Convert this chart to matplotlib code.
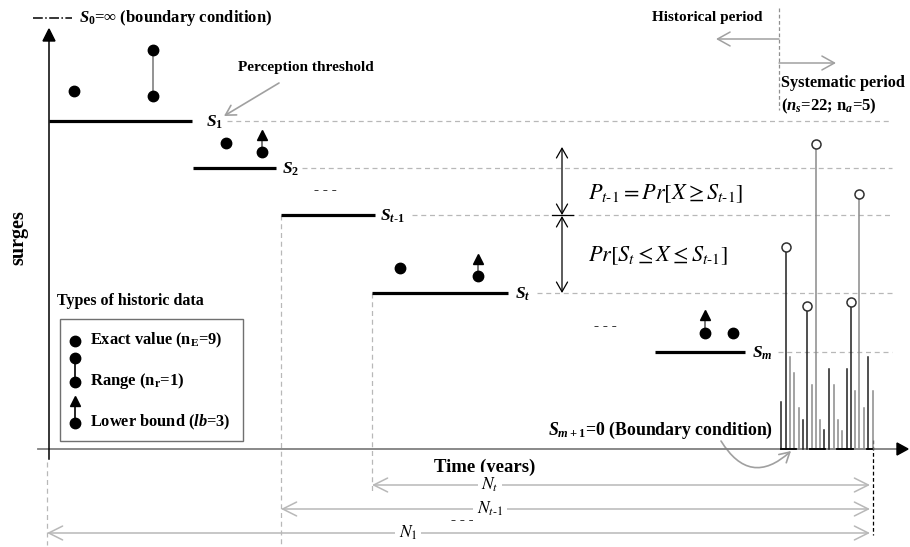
import matplotlib
matplotlib.use("Agg")
import matplotlib.pyplot as plt
from matplotlib.patches import FancyArrowPatch, Rectangle

plt.rcParams['font.family'] = ['Liberation Serif', 'DejaVu Serif']
plt.rcParams['mathtext.fontset'] = 'custom'
plt.rcParams['mathtext.rm'] = 'Liberation Serif:bold'
plt.rcParams['mathtext.it'] = 'Liberation Serif:italic:bold'
plt.rcParams['mathtext.bf'] = 'Liberation Serif:bold'
try:
    plt.rcParams['mathtext.bfit'] = 'Liberation Serif:italic:bold'
except KeyError:
    pass

# ---------------- data (pixel-space schematic) ----------------
thr_level = [121, 168, 215, 293, 352]
thr_x0 = [49, 193, 281, 372, 655]
thr_x1 = [192, 276, 375, 508, 745]
thr_labels = [r'$\mathit{S}_{\mathit{1}}$', r'$\mathit{S}_{\mathit{2}}$',
              r'$\mathit{S}_{\mathit{t\text{-}1}}$', r'$\mathit{S}_{\mathit{t}}$',
              r'$\mathit{S}_{\mathit{m}}$']
thr_label_x = [206, 282, 380, 515, 752]
thr_dash_x0 = [227, 302, 412, 537, 778]

exact_x = [74, 226, 400, 733]
exact_y = [91, 143, 268, 333]
range_x = [153]
range_lo = [96]
range_hi = [50]
lb_x = [262, 478, 705]
lb_y = [152, 276, 333]
lb_tip = [131, 255, 311]

stem_x = [781, 786, 790, 794, 799, 803, 807, 812, 816, 820, 824, 829, 834, 838,
          842, 847, 851, 855, 859, 864, 868, 873]
stem_top = [402, 247, 357, 373, 408, 420, 306, 385, 144, 420, 430, 369, 385, 420,
            431, 369, 302, 391, 194, 408, 357, 391]
stem_dark = [1, 1, 0, 0, 0, 1, 1, 0, 0, 0, 1, 1, 0, 0, 0, 1, 1, 0, 0, 0, 1, 0]
stem_above = [0, 1, 0, 0, 0, 0, 1, 0, 1, 0, 0, 0, 0, 0, 0, 0, 1, 0, 1, 0, 0, 0]
base_segments = [(781, 796), (810, 825), (837, 853), (867, 872)]

n_arrow_x0 = [372, 281, 47]
n_arrow_y = [485, 509, 533]
n_labels = [r'$N_t$', r'$N_{t\text{-}1}$', r'$N_1$']
n_label_x = [490, 490, 408]
n_arrow_x1 = 870

BASE = 449
GRAY = '#a0a0a0'
LGRAY = '#b8b8b8'

fig = plt.figure(figsize=(9.1, 5.47), dpi=100)
ax = fig.add_axes([0, 0, 1, 1])
ax.set_xlim(0, 910)
ax.set_ylim(547, 0)
ax.axis('off')

# axes of the schematic
ax.plot([38, 898], [BASE, BASE], color='#808080', lw=1.3, zorder=2)
ax.fill([897, 908, 897], [443, BASE, 455], color='black', zorder=3)
ax.plot([49, 49], [459, 40], color='black', lw=1.1)
ax.fill([43, 49, 55], [41, 29, 41], color='black')

# thresholds
for y, x0, x1, lab, lx, dx0 in zip(thr_level, thr_x0, thr_x1, thr_labels, thr_label_x, thr_dash_x0):
    ax.plot([x0, x1], [y, y], color='black', lw=2.3, solid_capstyle='butt', zorder=3)
    ax.text(lx, y + 1, lab, fontsize=12.5, ha='left', va='center')
    ax.plot([dx0, 892], [y, y], color=LGRAY, lw=0.9, ls=(0, (4, 3)), zorder=1)

# vertical dashed guides
ax.plot([281, 281], [215, 545], color=LGRAY, lw=0.9, ls=(0, (4, 3)))
ax.plot([372, 372], [293, 492], color=LGRAY, lw=0.9, ls=(0, (4, 3)))
ax.plot([47, 47], [462, 545], color=LGRAY, lw=0.9, ls=(0, (4, 3)))
ax.plot([873, 873], [440, 535], color='black', lw=0.9, ls=(0, (3, 2)))
ax.plot([779, 779], [8, 110], color='#909090', lw=0.9, ls=(0, (3, 2)))

# historic data points
ax.plot(exact_x, exact_y, 'o', color='black', ms=7.5, zorder=4)
for x, lo, hi in zip(range_x, range_lo, range_hi):
    ax.plot([x, x], [lo, hi], color='#808080', lw=1.2, zorder=3)
    ax.plot([x, x], [lo, hi], 'o', color='black', ms=7.5, zorder=4)
for x, y, t in zip(lb_x, lb_y, lb_tip):
    ax.plot([x, x], [y, t + 6], color='#606060', lw=1.2, zorder=3)
    ax.plot([x], [y], 'o', color='black', ms=7.5, zorder=4)
    ax.plot([x], [t + 4], '^', color='black', ms=7, zorder=4)

# systematic stems
for x, top, dk, ab in zip(stem_x, stem_top, stem_dark, stem_above):
    c = '#202020' if dk else '#8a8a8a'
    if ab:
        ax.plot([x, x], [BASE, top + 4], color=c, lw=1.1, zorder=3)
        ax.plot([x], [top], 'o', mfc='white', mec='#303030', mew=1.1, ms=6.5, zorder=4)
    else:
        ax.plot([x, x], [BASE, top], color=c, lw=1.1, zorder=3)
for a, b in base_segments:
    ax.plot([a, b], [BASE, BASE], color='black', lw=1.3, zorder=3)

# ellipsis marks
for x, y in [(325, 190), (605, 327), (462, 520)]:
    ax.text(x, y, '- - -', fontsize=11, fontweight='bold', ha='center', va='center')

# probability arrows
ax.add_patch(FancyArrowPatch((562, 147), (562, 215), arrowstyle='<->,head_length=7,head_width=4',
                             color='black', lw=0.9, shrinkA=0, shrinkB=0))
ax.add_patch(FancyArrowPatch((562, 216), (562, 293), arrowstyle='<->,head_length=7,head_width=4',
                             color='black', lw=0.9, shrinkA=0, shrinkB=0))
ax.plot([552, 573], [215, 215], color='black', lw=0.9)
ax.text(588, 194, r'$P_{t\text{-}1} = Pr\left[X \geq S_{t\text{-}1}\right]$', fontsize=16,
        math_fontfamily='stix', ha='left', va='center')
ax.text(588, 256, r'$Pr\left[S_t \leq X \leq S_{t\text{-}1}\right]$', fontsize=16,
        math_fontfamily='stix', ha='left', va='center')

# legend of boundary condition
ax.plot([33, 72], [18, 18], color='black', lw=1.1, ls='-.')
ax.text(79, 18, r'$\mathit{S}_{\mathit{0}}$=∞ (boundary condition)', fontsize=12,
        fontweight='bold', ha='left', va='center')

# perception threshold
ax.text(238, 67, 'Perception threshold', fontsize=11, fontweight='bold', ha='left', va='center')
ax.add_patch(FancyArrowPatch((279, 83), (224, 116), arrowstyle='->,head_length=7,head_width=4',
                             color=GRAY, lw=1.2, shrinkA=0, shrinkB=0))

# periods
ax.text(652, 17, 'Historical period', fontsize=11, fontweight='bold', ha='left', va='center')
ax.add_patch(FancyArrowPatch((779, 39), (716, 39), arrowstyle='->,head_length=9,head_width=5',
                             color=GRAY, lw=1.1, shrinkA=0, shrinkB=0))
ax.add_patch(FancyArrowPatch((779, 63), (836, 63), arrowstyle='->,head_length=9,head_width=5',
                             color=GRAY, lw=1.1, shrinkA=0, shrinkB=0))
ax.text(781, 83, 'Systematic period', fontsize=11.7, fontweight='bold', ha='left', va='center')
ax.text(781, 106, r'($\mathit{n}_{\mathit{s}}$=22; n$_{\mathit{a}}$=5)', fontsize=12,
        fontweight='bold', ha='left', va='center')

# boundary condition S_{m+1}
ax.text(548, 430, r'$\mathit{S}_{\mathit{m+1}}$=0 (Boundary condition)', fontsize=12.8,
        fontweight='bold', ha='left', va='center')
ax.add_patch(FancyArrowPatch((721, 441), (791, 451), connectionstyle='arc3,rad=0.6',
                             arrowstyle='->,head_length=7,head_width=4',
                             color=GRAY, lw=1.2, shrinkA=0, shrinkB=0))

# legend box
ax.text(57, 301, 'Types of historic data', fontsize=11.5, fontweight='bold', ha='left', va='center')
ax.add_patch(Rectangle((60, 319), 183, 122, fill=False, ec='#707070', lw=1.0))
ax.plot([75], [341], 'o', color='black', ms=7.5)
ax.text(90, 340, r'Exact value (n$_{\mathbf{E}}$=9)', fontsize=11.8, fontweight='bold',
        ha='left', va='center')
ax.plot([75, 75], [358, 382], color='black', lw=1.2)
ax.plot([75, 75], [358, 382], 'o', color='black', ms=7.5)
ax.text(90, 381, r'Range (n$_{\mathbf{r}}$=1)', fontsize=12, fontweight='bold',
        ha='left', va='center')
ax.plot([75, 75], [423, 403], color='black', lw=1.2)
ax.plot([75], [423], 'o', color='black', ms=7.5)
ax.plot([75], [401], '^', color='black', ms=7)
ax.text(90, 422, r'Lower bound ($\mathit{lb}$=3)', fontsize=11.8, fontweight='bold',
        ha='left', va='center')

# axis titles
ax.text(18, 238, 'surges', fontsize=14.5, fontweight='bold', rotation=90, ha='center', va='center')
ax.text(485, 467, 'Time (years)', fontsize=13.5, fontweight='bold', ha='center', va='center')

# record-length arrows
for x0, y, lab, lx in zip(n_arrow_x0, n_arrow_y, n_labels, n_label_x):
    ax.add_patch(FancyArrowPatch((x0, y), (n_arrow_x1, y), arrowstyle='<->,head_length=10,head_width=5',
                                 color=LGRAY, lw=1.1, shrinkA=0, shrinkB=0))
    ax.text(lx, y, lab, fontsize=12.5, math_fontfamily='stix', ha='center', va='center',
            bbox=dict(fc='white', ec='none', pad=2.5))

fig.savefig('out.png', dpi=100)
